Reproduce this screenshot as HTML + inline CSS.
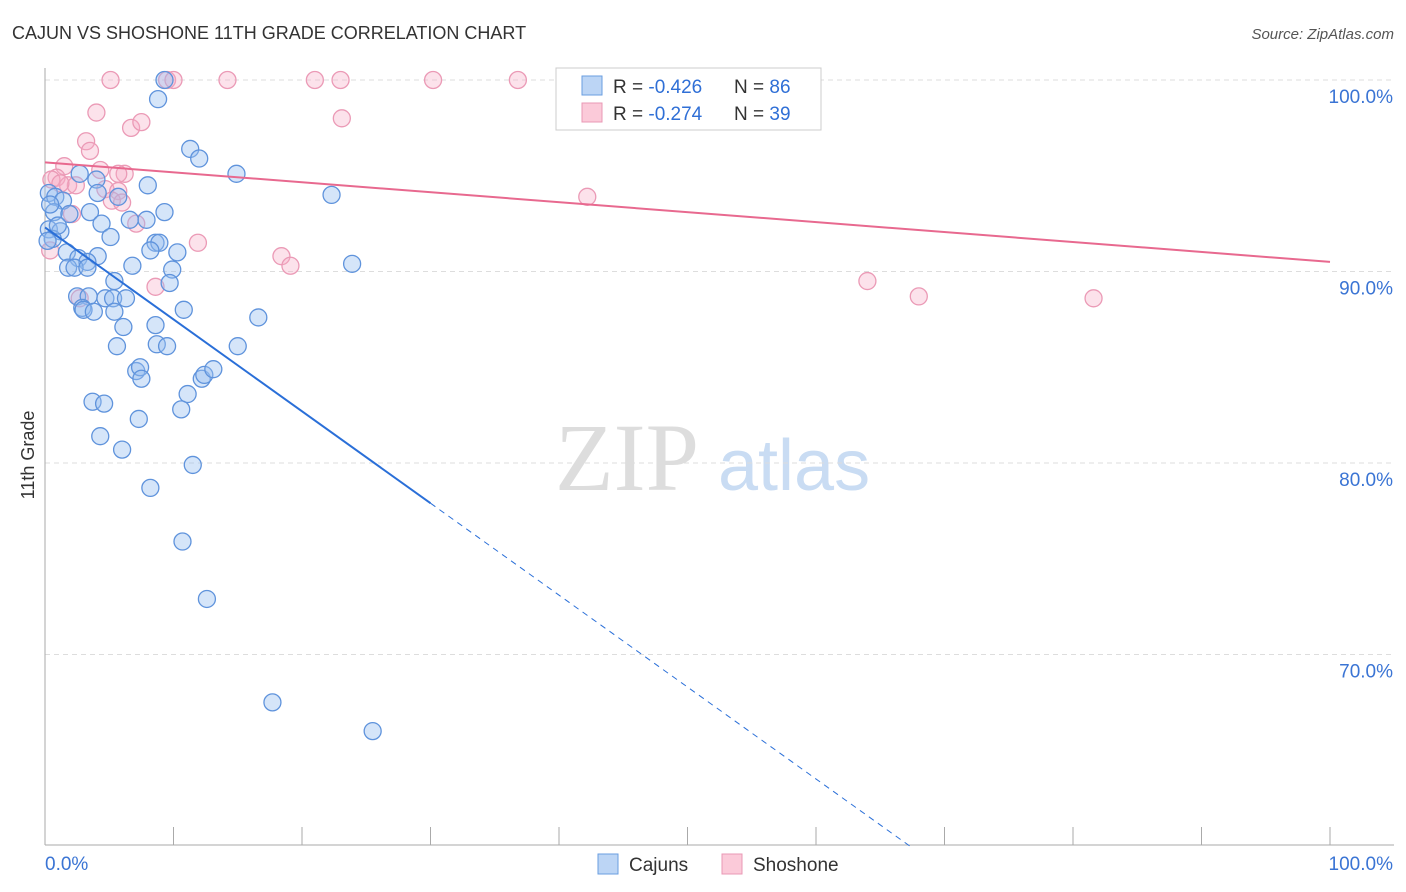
<!DOCTYPE html>
<html><head><meta charset="utf-8"><style>
body{margin:0;background:#fff;font-family:"Liberation Sans",sans-serif;}
svg{display:block}
</style></head><body>
<svg id="c" width="1406" height="892">
<text x="12" y="39" font-size="18" fill="#333">CAJUN VS SHOSHONE 11TH GRADE CORRELATION CHART</text>
<text x="1394" y="39" font-size="15" fill="#555" font-style="italic" text-anchor="end">Source: ZipAtlas.com</text>
<text x="34" y="455" font-size="18" fill="#333" transform="rotate(-90 34 455)" text-anchor="middle">11th Grade</text>
<text x="555" y="490" font-size="96" fill="#ddd" font-family="Liberation Serif,serif">ZIP</text>
<text x="718" y="490" font-size="72" fill="#c9dcf3">atlas</text>
<g id="grid"></g><g id="pts"></g><g id="lines"></g>
<g>
<rect x="556" y="68" width="265" height="62" fill="#fff" stroke="#ccc"/>
<rect x="582" y="76" width="20" height="19" fill="#bcd5f5" stroke="#6a9ee0"/>
<rect x="582" y="103" width="20" height="19" fill="#fbcad9" stroke="#ea98b5"/>
<text x="613" y="93" font-size="19" fill="#333">R = <tspan fill="#2f6fd6">-0.426</tspan></text>
<text x="734" y="93" font-size="19" fill="#333">N = <tspan fill="#2f6fd6">86</tspan></text>
<text x="613" y="120" font-size="19" fill="#333">R = <tspan fill="#2f6fd6">-0.274</tspan></text>
<text x="734" y="120" font-size="19" fill="#333">N = <tspan fill="#2f6fd6">39</tspan></text>
</g>
<g>
<rect x="598" y="854" width="20" height="20" fill="#bcd5f5" stroke="#6a9ee0"/>
<text x="629" y="871" font-size="19" fill="#333">Cajuns</text>
<rect x="722" y="854" width="20" height="20" fill="#fbcad9" stroke="#ea98b5"/>
<text x="753" y="871" font-size="19" fill="#333">Shoshone</text>
</g>
</svg>
<script>
const yTicks=[100,90,80,70];
const xTickLabels=["0.0%","100.0%"];
const cajunX=[9.3,8.8,11.3,12.0,14.9,8.0,4.0,2.7,0.3,0.8,1.4,4.1,5.7,0.7,1.9,3.5,6.6,7.9,9.3,4.4,0.3,1.2,0.6,5.1,8.6,8.9,8.2,10.3,1.7,2.6,4.1,3.3,1.8,2.3,3.3,6.8,9.9,5.4,9.7,2.5,3.4,4.7,5.3,6.3,2.9,3.0,3.8,5.4,10.8,16.6,6.1,8.6,5.6,8.7,9.5,15.0,7.1,7.4,7.5,12.2,12.4,13.1,11.1,3.7,4.6,7.3,10.6,4.3,6.0,11.5,8.2,10.7,12.6,17.7,25.5,22.3,23.9,0.2,0.4,1.0];
const cajunY=[100,99.0,96.4,95.9,95.1,94.5,94.8,95.1,94.1,93.9,93.7,94.1,93.9,93.1,93.0,93.1,92.7,92.7,93.1,92.5,92.2,92.1,91.7,91.8,91.5,91.5,91.1,91.0,91.0,90.7,90.8,90.5,90.2,90.2,90.2,90.3,90.1,89.5,89.4,88.7,88.7,88.6,88.6,88.6,88.1,88.0,87.9,87.9,88.0,87.6,87.1,87.2,86.1,86.2,86.1,86.1,84.8,85.0,84.4,84.4,84.6,84.9,83.6,83.2,83.1,82.3,82.8,81.4,80.7,79.9,78.7,75.9,72.9,67.5,66.0,94.0,90.4,91.6,93.5,92.4];
const shoX=[5.1,9.5,10.0,14.2,21.0,23.0,30.2,36.8,4.0,6.7,7.5,23.1,3.2,3.5,1.5,4.3,6.2,0.9,0.5,1.8,2.4,4.7,5.7,5.2,6.0,7.1,2.1,11.9,18.4,19.1,42.2,64.0,68.0,81.6,8.6,0.4,2.7,1.2,5.7];
const shoY=[100,100,100,100,100,100,100,100,98.3,97.5,97.8,98.0,96.8,96.3,95.5,95.3,95.1,94.9,94.8,94.5,94.5,94.3,94.2,93.7,93.6,92.5,93.0,91.5,90.8,90.3,93.9,89.5,88.7,88.6,89.2,91.1,88.6,94.6,95.1];
const cajunTrend=[92.3,-0.48]; // intercept, slope per %
const shoTrend=[95.7,-0.052];
const X=v=>45+v*12.85, Y=v=>80+(100-v)*19.15;
const NS="http://www.w3.org/2000/svg";
function mk(t,a,p){const e=document.createElementNS(NS,t);for(const k in a)e.setAttribute(k,a[k]);p.appendChild(e);return e;}
const g=document.getElementById('grid');
yTicks.forEach(t=>{
 const l=mk('line',{x1:45,x2:1394,y1:Y(t),y2:Y(t),stroke:'#ddd','stroke-dasharray':'5,4'},g);
 
 
 const tx=mk('text',{x:1393,y:Y(t)+23,'font-size':19,fill:'#3a74d4','text-anchor':'end'},g);
 tx.textContent=t.toFixed(1)+'%';
 
 
});
const ax=mk('line',{x1:45,x2:45,y1:68,y2:845,stroke:'#aaa'},g);


const bx=mk('line',{x1:45,x2:1394,y1:845,y2:845,stroke:'#aaa'},g);


for(let i=0;i<=10;i++){const tk=mk('line',{x1:X(i*10),x2:X(i*10),y1:827,y2:845,stroke:'#aaa'},g);
 
 }
const l0=mk('text',{x:45,y:870,'font-size':19,fill:'#3a74d4'},g);l0.textContent=xTickLabels[0];


const l1=mk('text',{x:1393,y:870,'font-size':19,fill:'#3a74d4','text-anchor':'end'},g);l1.textContent=xTickLabels[1];


const p=document.getElementById('pts');
shoX.forEach((x,i)=>{const c=mk('circle',{cx:X(x),cy:Y(shoY[i]),r:8.5,fill:'rgba(246,172,198,0.35)',stroke:'#eb9ab6','stroke-width':1.3},p);
 
 });
cajunX.forEach((x,i)=>{const c=mk('circle',{cx:X(x),cy:Y(cajunY[i]),r:8.5,fill:'rgba(150,190,240,0.4)',stroke:'#5f93dc','stroke-width':1.3},p);
 
 });
const L=document.getElementById('lines');
const cy=x=>cajunTrend[0]+cajunTrend[1]*x, sy=x=>shoTrend[0]+shoTrend[1]*x;
const xEnd=(cajunTrend[0]-60)/-cajunTrend[1];
const t1=mk('line',{x1:X(0),y1:Y(cy(0)),x2:X(30),y2:Y(cy(30)),stroke:'#2a6fd8','stroke-width':2},L);


const t2=mk('line',{x1:X(30),y1:Y(cy(30)),x2:X(xEnd),y2:Y(60),stroke:'#2a6fd8','stroke-width':1,'stroke-dasharray':'6,5'},L);


const t3=mk('line',{x1:X(0),y1:Y(sy(0)),x2:X(100),y2:Y(sy(100)),stroke:'#e8698f','stroke-width':2},L);


</script>
</body></html>
